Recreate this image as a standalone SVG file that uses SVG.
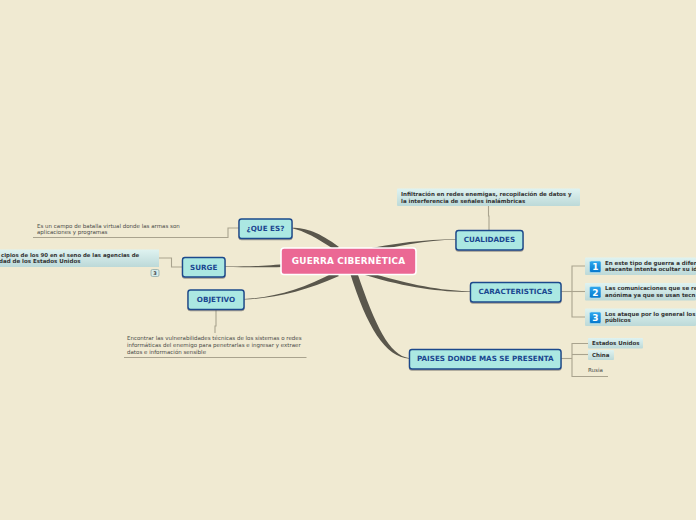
<svg xmlns="http://www.w3.org/2000/svg" width="696" height="520" viewBox="0 0 696 520">
<style>
text{font-family:"DejaVu Sans",sans-serif}
.m rect{fill:#abe8e2;stroke:#1b4a8c;stroke-width:1.4}
.m text{font-size:7.2px;font-weight:700;fill:#1a4690;text-anchor:middle}
.n{font-size:5.5px;fill:#4a4a48}
.b{font-size:5.5px;font-weight:700;fill:#333}
.c{fill:url(#cg)}
.l{fill:none;stroke:#a9a38e;stroke-width:1.1}
.t{fill:#5a574c}
.i{fill:url(#ig);stroke:#bfe6f0;stroke-width:.6}
.d{font-size:9px;font-weight:700;fill:#fff;text-anchor:middle}
</style>
<defs>
<linearGradient id="cg" x1="0" y1="0" x2="0" y2="1"><stop offset="0" stop-color="#dff3f1"/><stop offset="1" stop-color="#bcd9d8"/></linearGradient>
<linearGradient id="ig" x1="0" y1="0" x2="0" y2="1"><stop offset="0" stop-color="#2fa8ee"/><stop offset="1" stop-color="#0577cc"/></linearGradient>
<filter id="s" x="-10%" y="-20%" width="120%" height="150%"><feDropShadow dx="0" dy="1" stdDeviation=".6" flood-color="#555" flood-opacity=".55"/></filter>
</defs>
<rect width="696" height="520" fill="#f0ead2"/>
<g id="connectors">
<path class="t" d="M292 227.800C306 228 319 232 339 247L335 250C317 238 304 231 292 228.300Z"/>
<path class="t" d="M225 266.400C250 266.500 265 266 290 263.500L290 267C265 267.500 250 267.200 225 266.900Z"/>
<path class="t" d="M244 299C275 297.300 303 289 335 272L339 276C305 291 275 298.300 244 299.600Z"/>
<path class="t" d="M456 238.900C425 239.700 395 242.500 360 250.500L362 253.500C398 245.500 425 240.400 456 239.400Z"/>
<path class="t" d="M470.500 291.400C440 290.300 412 285.500 368 272L365 275C408 288 440 291.800 470.500 292.100Z"/>
<path class="t" d="M409.500 358.200C389 355.500 375 325 357 272L350 273C367 327 385 356.800 409.500 358.800Z"/>
<path class="l" d="M239 228H228V237.500H33"/>
<path class="l" d="M182.500 267H171.500V258H159"/>
<path class="l" d="M216 309.500V326H215V333"/>
<path class="l" d="M124 357.500H306.500"/>
<path class="l" d="M489 230V216H488.500V206"/>
<path class="l" d="M561 291.500H572"/>
<path class="l" d="M585 266H572V317H585"/>
<path class="l" d="M572 291.500H585"/>
<path class="l" d="M561 358.500H572"/>
<path class="l" d="M588 343.500H572V376.500H608"/>
<path class="l" d="M572 354.500H588"/>
</g>
<g id="central"><rect x="281" y="248" width="135" height="26.500" rx="3" fill="#eb6894" stroke="#fff" stroke-width="1.6"/><text x="348.500" y="264" font-size="8.900" font-weight="700" fill="#fff" text-anchor="middle" letter-spacing=".2">GUERRA CIBERNÈTICA</text></g>
<g id="que-es" class="m"><rect x="239" y="219" width="53" height="19.500" rx="2.500" filter="url(#s)"/><text x="265.500" y="231">¿QUE ES?</text></g>
<g id="surge" class="m"><rect x="182.500" y="257.500" width="42.500" height="19.500" rx="2.500" filter="url(#s)"/><text x="203.700" y="269.500">SURGE</text></g>
<g id="objetivo" class="m"><rect x="188" y="290" width="56" height="19.500" rx="2.500" filter="url(#s)"/><text x="216" y="302">OBJETIVO</text></g>
<g id="cualidades" class="m"><rect x="456" y="230.500" width="67" height="19.500" rx="2.500" filter="url(#s)"/><text x="489.500" y="242">CUALIDADES</text></g>
<g id="caracteristicas" class="m"><rect x="470.500" y="282.500" width="90.500" height="19.500" rx="2.500" filter="url(#s)"/><text x="515.500" y="294">CARACTERISTICAS</text></g>
<g id="paises" class="m"><rect x="409.500" y="349.500" width="151.500" height="19.500" rx="2.500" filter="url(#s)"/><text x="485.300" y="361">PAISES DONDE MAS SE PRESENTA</text></g>
<g id="que-es-note"><text class="n" x="37" y="227.500">Es un campo de batalla virtual donde las armas son</text><text class="n" x="37" y="233.500">aplicaciones y programas</text></g>
<g id="surge-note"><rect class="c" x="0" y="249.500" width="159" height="17.500"/><text class="b" x="1" y="256.800" font-size="5.400" style="font-size:5.400px">cipios de los 90 en el seno de las agencias de</text><text class="b" x="80.500" y="262.800" text-anchor="end">dad de los Estados Unidos</text></g>
<g id="surge-badge"><rect x="151" y="269.500" width="8" height="7" rx="1.500" fill="#d5ebe9" stroke="#8fa9a8" stroke-width=".8"/><text x="155" y="275" font-size="5px" font-weight="700" fill="#444" text-anchor="middle">3</text></g>
<g id="objetivo-note"><text class="n" x="127" y="340">Encontrar las vulnerabilidades técnicas de los sistemas o redes</text><text class="n" x="127" y="347">informáticas del enemigo para penetrarlas e ingresar y extraer</text><text class="n" x="127" y="353.500">datos e información sensible</text></g>
<g id="cualidades-note"><rect class="c" x="397" y="188.500" width="183" height="17.500" rx="1"/><text class="b" x="401" y="195.800">Infiltración en redes enemigas, recopilación de datos y</text><text class="b" x="401" y="202.800">la interferencia de señales inalámbricas</text></g>
<g id="car-1"><rect class="c" x="585" y="257.500" width="111" height="17.500" rx="1"/><rect class="i" x="589.500" y="261" width="11.500" height="11.500" rx="1.500"/><text class="d" x="595.300" y="270.200">1</text><text class="b" x="605" y="264.500">En este tipo de guerra a difer</text><text class="b" x="605" y="270.800">atacante intenta ocultar su id</text></g>
<g id="car-2"><rect class="c" x="585" y="283" width="111" height="17.500" rx="1"/><rect class="i" x="589.500" y="286.500" width="11.500" height="11.500" rx="1.500"/><text class="d" x="595.300" y="295.700">2</text><text class="b" x="605" y="290">Las comunicaciones que se re</text><text class="b" x="605" y="296.500">anónima ya que se usan tecn</text></g>
<g id="car-3"><rect class="c" x="585" y="308.500" width="111" height="17.500" rx="1"/><rect class="i" x="589.500" y="312" width="11.500" height="11.500" rx="1.500"/><text class="d" x="595.300" y="321.200">3</text><text class="b" x="605" y="315.500">Los ataque por lo general los</text><text class="b" x="605" y="322">públicos</text></g>
<g id="pais-1"><rect class="c" x="588" y="338" width="55" height="10.500" rx="1"/><text class="b" x="592" y="345">Estados Unidos</text></g>
<g id="pais-2"><rect class="c" x="588" y="350" width="26" height="10" rx="1"/><text class="b" x="592" y="356.800">China</text></g>
<g id="pais-3"><text class="n" x="588" y="371.800">Rusia</text></g>
</svg>
